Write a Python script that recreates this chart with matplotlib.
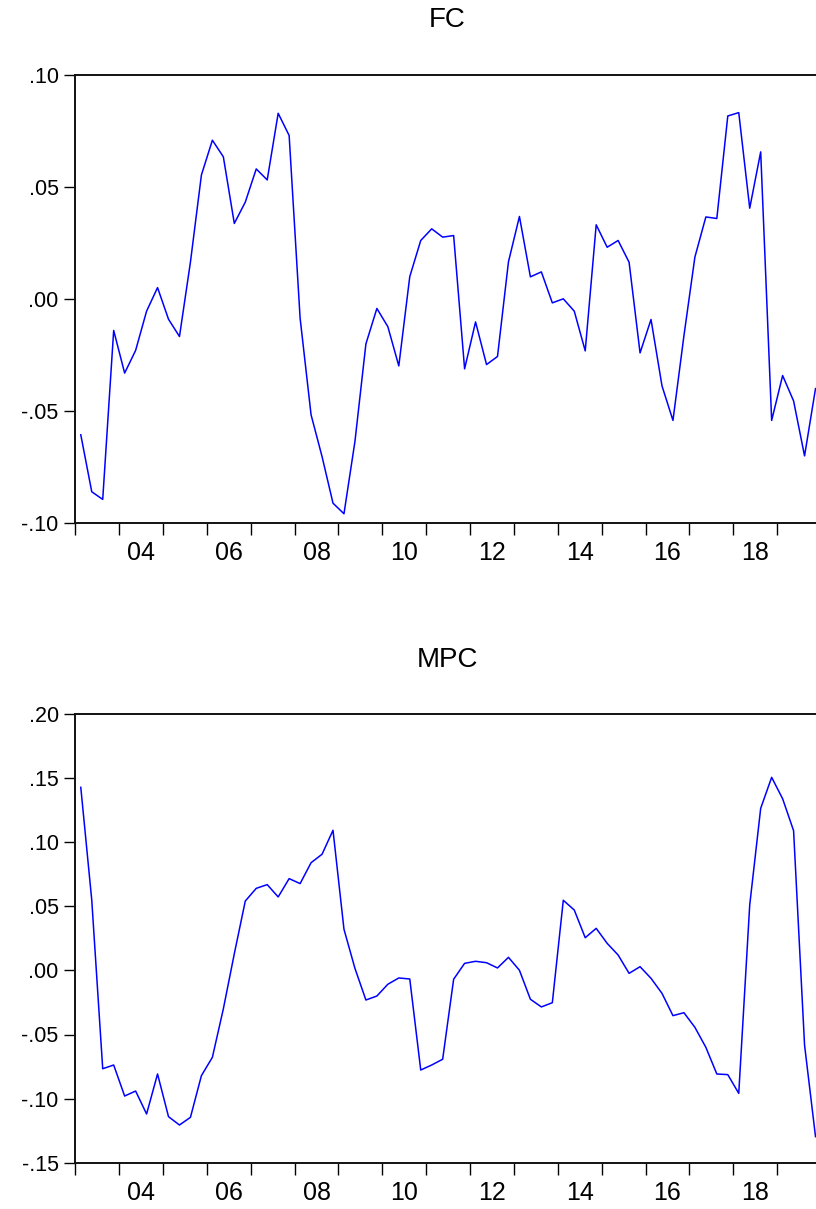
import numpy as np
import pandas as pd
import matplotlib
matplotlib.use('Agg')
import matplotlib.pyplot as plt
from matplotlib.ticker import FixedLocator, NullFormatter, FixedFormatter

plt.rcParams['font.family'] = ['Liberation Sans', 'DejaVu Sans']

# quarterly sample 2003Q1 - 2019Q4
quarters = pd.period_range('2003Q1', '2019Q4', freq='Q')

fc = [-0.0605, -0.0859, -0.0893, -0.0140, -0.0330, -0.0229, -0.0054, 0.0051,
      -0.0090, -0.0167, 0.0165, 0.0553, 0.0708, 0.0634, 0.0337, 0.0432,
      0.0580, 0.0531, 0.0828, 0.0729, -0.0085, -0.0516, -0.0702, -0.0910,
      -0.0957, -0.0635, -0.0200, -0.0042, -0.0123, -0.0298, 0.0100, 0.0261,
      0.0313, 0.0276, 0.0283, -0.0311, -0.0102, -0.0292, -0.0256, 0.0166,
      0.0368, 0.0099, 0.0121, -0.0017, 0.0001, -0.0054, -0.0231, 0.0331,
      0.0231, 0.0261, 0.0164, -0.0240, -0.0091, -0.0387, -0.0541, -0.0164,
      0.0187, 0.0366, 0.0359, 0.0816, 0.0831, 0.0405, 0.0656, -0.0541,
      -0.0341, -0.0454, -0.0699, -0.0399]

mpc = [0.1428, 0.0549, -0.0767, -0.0738, -0.0980, -0.0941, -0.1120, -0.0808,
       -0.1141, -0.1206, -0.1146, -0.0821, -0.0678, -0.0300, 0.0130, 0.0541,
       0.0640, 0.0669, 0.0573, 0.0716, 0.0677, 0.0840, 0.0906, 0.1093,
       0.0321, 0.0016, -0.0231, -0.0200, -0.0108, -0.0059, -0.0067, -0.0777,
       -0.0738, -0.0693, -0.0069, 0.0055, 0.0071, 0.0060, 0.0019, 0.0102,
       0.0001, -0.0225, -0.0285, -0.0252, 0.0547, 0.0471, 0.0255, 0.0328,
       0.0211, 0.0120, -0.0023, 0.0029, -0.0062, -0.0179, -0.0353, -0.0330,
       -0.0444, -0.0600, -0.0808, -0.0813, -0.0959, 0.0510, 0.1264, 0.1506,
       0.1339, 0.1090, -0.0582, -0.1297]

fc_ticks = [-0.10, -0.05, 0.00, 0.05, 0.10]
fc_labels = ['-.10', '-.05', '.00', '.05', '.10']
mpc_ticks = [-0.15, -0.10, -0.05, 0.00, 0.05, 0.10, 0.15, 0.20]
mpc_labels = ['-.15', '-.10', '-.05', '.00', '.05', '.10', '.15', '.20']
year_labels = ['04', '06', '08', '10', '12', '14', '16', '18']

# plot quarters at the middle of each quarter
x = quarters.year + (quarters.quarter - 1) / 4 + 0.125

W, H = 816, 1209
fig = plt.figure(figsize=(W / 100, H / 100), dpi=100)

left = 75.3 / W
width = (821.0 - 75.3) / W


def panel(top_px, bot_px, y, yticks, ylabels, title, title_base):
    ax = fig.add_axes([left, 1 - bot_px / H, width, (bot_px - top_px) / H])
    ax.plot(x, y, color='#0000ff', lw=1.1)
    ax.set_xlim(2003, 2020)
    ax.set_ylim(yticks[0], yticks[-1])
    ax.spines['right'].set_visible(False)
    for s in ['left', 'top', 'bottom']:
        ax.spines[s].set_linewidth(1.4)
        ax.spines[s].set_color('#111111')
    ax.yaxis.set_major_locator(FixedLocator(yticks))
    ax.yaxis.set_major_formatter(FixedFormatter(ylabels))
    ax.tick_params(axis='y', direction='out', length=8, width=1.0, pad=4, labelsize=15.5)
    # year ticks, labels at mid-year every second year
    ax.xaxis.set_major_locator(FixedLocator(np.arange(2003, 2021)))
    ax.xaxis.set_major_formatter(NullFormatter())
    ax.xaxis.set_minor_locator(FixedLocator([int('20' + s) + 0.5 for s in year_labels]))
    ax.xaxis.set_minor_formatter(FixedFormatter(year_labels))
    ax.tick_params(axis='x', which='major', direction='out', length=8.5, width=1.0)
    ax.tick_params(axis='x', which='minor', length=0, pad=13, labelsize=18)
    fig.text(447 / W, 1 - title_base / H, title, ha='center', va='baseline', fontsize=20)
    return ax


panel(74.7, 523.4, fc, fc_ticks, fc_labels, 'FC', 27)
panel(714.0, 1162.7, mpc, mpc_ticks, mpc_labels, 'MPC', 667)

fig.savefig('out.png', dpi=100)
